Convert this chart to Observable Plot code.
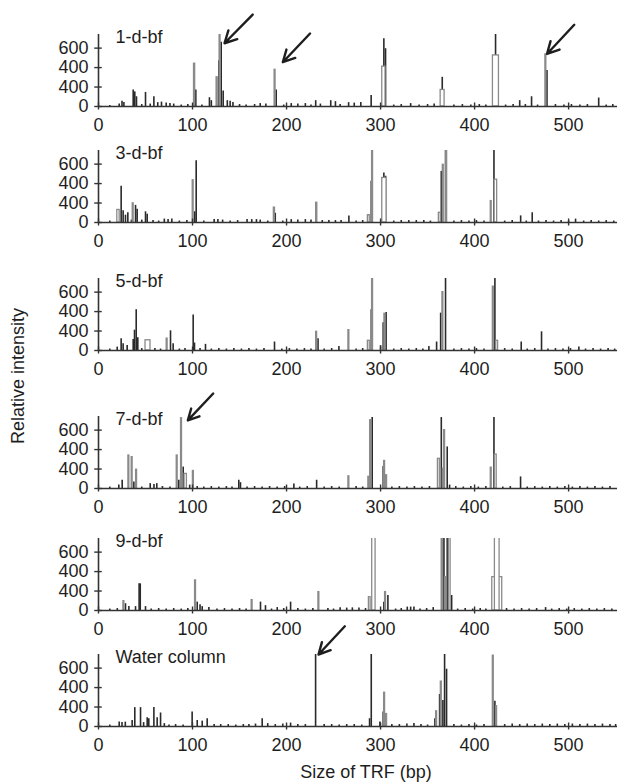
<!DOCTYPE html>
<html><head><meta charset="utf-8">
<script src="https://cdn.jsdelivr.net/npm/d3@7"></script>
<script src="https://cdn.jsdelivr.net/npm/@observablehq/plot@0.6"></script>
<style>
body{margin:0;background:#fff;}
#wrap{position:relative;width:620px;height:784px;font-family:"Liberation Sans",Arial,Helvetica,sans-serif;color:#1e1e1e;overflow:hidden;background:#fff}
.panel{position:absolute;left:0}
#ytitle{position:absolute;left:18px;top:376px;transform:translate(-50%,-50%) rotate(-90deg);font-size:18px;white-space:nowrap}
#xtitle{position:absolute;left:366px;top:772px;transform:translate(-50%,-50%);font-size:18px;white-space:nowrap}
</style></head>
<body><div id="wrap"><div id="ytitle">Relative intensity</div><div id="xtitle">Size of TRF (bp)</div></div>
<script>
const panelLabels = ["1-d-bf","3-d-bf","5-d-bf","7-d-bf","9-d-bf","Water column"];
const xTicks = [0,100,200,300,400,500];
const yTicks = [0,200,400,600];
const yTickLabels = ["0","400","400","600"];

// dark peaks: [size bp, relative intensity]
const dark1 = [[12,10],[22,25],[25,55],[27,40],[36.9,170],[38.6,150],[40.4,100],[46,20],[50,145],[55,25],[58.9,100],[63,40],[67,45],[72,35],[76,30],[80,25],[88,15],[95,20],[103.5,170],[110,15],[118,90],[120,60],[128,470],[130.5,660],[132.6,160],[137,60],[140,55],[143,40],[150,20],[157,15],[166,20],[172,30],[178,25],[189,170],[197,15],[205,30],[212,25],[220,30],[226,15],[231,60],[236,25],[247,60],[252,50],[257,20],[266,40],[272,35],[279,40],[290,113],[303.5,697],[305.3,594],[314,15],[322,20],[332,30],[341,15],[350,20],[357,25],[365.6,300],[378,15],[387,20],[396,15],[405,20],[412,15],[422.3,748],[433,15],[441,20],[448,60],[454,20],[460.6,100],[467,15],[477,370],[486,20],[495,15],[503,20],[512,15],[520,20],[532,87],[540,15],[547,20]];
const dark2 = [[12,15],[24.1,373],[26.2,120],[28.7,75],[31.2,100],[35,25],[39.4,176],[41.1,135],[46,25],[50,110],[51.8,85],[58,20],[64,15],[70,35],[74,30],[78,35],[86,15],[94,20],[103.9,634],[102.3,110],[112,15],[123,30],[127,30],[132,25],[140,15],[148,20],[158,30],[163,30],[168,30],[172,25],[180,15],[188,95],[196,15],[205,30],[212,25],[220,30],[226,25],[238,20],[245,20],[252,20],[258,20],[266.3,68],[274,15],[281,20],[290.1,424],[303.5,508],[305.3,475],[314,15],[322,20],[330,20],[338,20],[346,20],[353,15],[364.6,525],[369.1,740],[378,15],[386,20],[394,15],[402,20],[410,15],[420.6,740],[432,15],[440,20],[449,68],[455,15],[461.3,100],[468,15],[476,20],[484,15],[492,20],[500,15],[507.4,35],[516,15],[524,20],[532,15],[540,20],[548,15]];
const dark3 = [[12,15],[19.9,35],[24.1,122],[26.2,70],[30.5,52],[36.9,112],[38.3,209],[40.1,419],[41.8,130],[46,20],[60,20],[66,15],[76.6,202],[79.4,70],[86,15],[92,20],[100.7,366],[102.1,77],[108,20],[113.8,63],[120,15],[128,20],[136,15],[144,20],[152,15],[160,20],[168,15],[176,20],[187.2,87],[195,15],[203,20],[211,15],[219,20],[226,15],[233.5,122],[240,15],[248,20],[255.7,40],[274,15],[281,20],[290.1,419],[300,50],[302.8,286],[305.9,390],[314,15],[322,20],[330,15],[338,20],[345,15],[351.4,40],[359.6,87],[363.9,384],[369.1,740],[378,15],[386,20],[394,15],[402,20],[410,15],[421.6,740],[432,20],[440,15],[449.6,87],[456,15],[464,20],[471.2,192],[478,15],[486,20],[494,15],[502,20],[510.9,35],[518,15],[526,20],[534,15],[542,20],[549,15]];
const dark4 = [[12,15],[21.6,35],[25.2,85],[37.6,68],[46,15],[55,50],[59,40],[62,50],[68,20],[76,15],[85.4,85],[90.1,220],[97,35],[105,20],[112,15],[120,20],[128,15],[136,20],[142,15],[149.2,85],[151,60],[158,15],[166,20],[174,15],[182,20],[190,15],[198,20],[207.8,45],[214,15],[222,20],[232,85],[240,15],[248,20],[256,15],[274,20],[281,15],[291.1,729],[302.8,227],[312,15],[320,20],[328,15],[336,20],[344,15],[352,20],[364.6,729],[370.9,427],[373.4,35],[380,20],[388,15],[396,20],[404,15],[412,20],[420.6,729],[430,15],[438,20],[448.9,119],[456,15],[464,20],[472,15],[480,20],[488,15],[496,20],[504,15],[512,20],[520,15],[528,20],[536,15],[544,20]];
const dark5 = [[12,15],[20,20],[28.7,70],[32.3,40],[39.4,40],[43.2,274],[44.4,274],[50,40],[56,15],[64,20],[72,15],[80,20],[88,15],[95,20],[105,86],[108,60],[110.3,40],[117.4,30],[126,15],[134,20],[142,15],[150,20],[157,15],[172.3,86],[177.6,50],[184,15],[190.1,30],[197,20],[204.3,86],[212,20],[220,15],[228,20],[244,20],[250,15],[257,27],[264,25],[270,27],[277,25],[284,20],[303.5,86],[307.8,154],[316,15],[322,20],[328.4,35],[332,35],[335.5,35],[342,15],[349,20],[356,30],[367.4,800],[370.9,800],[375.6,154],[382,15],[390,20],[398,15],[406,20],[412,15],[434,20],[442,15],[450,20],[458,15],[466,20],[475.5,30],[482,15],[490,20],[498,15],[506,20],[514,15],[522,20],[530,15],[538,20],[546,15]];
const dark6 = [[12,15],[22,45],[25,40],[28.5,45],[35.8,62],[38.6,194],[44.7,194],[48,40],[51.8,90],[53.5,80],[58.9,194],[62.4,90],[66,139],[70,30],[75,15],[82,20],[90,15],[99.6,149],[105,62],[110.3,55],[115.6,80],[123,20],[130,20],[138,20],[146,15],[154,20],[160,20],[167,25],[174.1,80],[180,30],[188,20],[196,25],[204.3,35],[212,20],[220,20],[230.9,740],[240,20],[248,20],[256,15],[264,20],[272,20],[280,15],[288.3,80],[290.1,740],[299.3,45],[302.8,149],[312,20],[320,20],[328,25],[335.5,30],[343,20],[350,15],[357.8,80],[362.8,329],[366.3,267],[368.1,740],[370.2,589],[378,20],[386,15],[394,20],[402,15],[410,20],[421.6,260],[432,20],[440,25],[448,20],[456,25],[464,20],[472,25],[480,20],[488,25],[496,20],[504,25],[512,20],[520,25],[528,20],[536,25],[544,20],[550,20]];

// light (grey outline) peaks: [from bp, to bp, relative intensity]
const light1 = [[101.6,102.8,440],[125.6,126.8,300],[128.8,129.8,740],[187.3,188.3,377],[301.8,305.3,410],[363.9,368.1,170],[419.5,425.9,525],[475.3,476.3,535]];
const light2 = [[20,22.5,129],[36.4,37.4,197],[100.2,101.2,434],[186.5,187.7,153],[231.5,232.7,203],[286.5,288.5,75],[291,292,740],[301.8,306.4,458],[362,364,100],[366.2,367.2,593],[369.8,370.8,740],[417.2,418.2,220],[421.3,424,440]];
const light3 = [[50,55.3,105],[72.5,73.5,122],[231.5,232.5,192],[265.8,266.8,209],[286.5,288.5,100],[291,292,740],[304.1,305.1,377],[365.8,366.8,600],[419.4,420.4,656],[423,425,100]];
const light4 = [[31.8,32.8,339],[35.3,36.3,322],[40,41,193],[83.2,84.2,339],[87.8,88.8,722],[91.5,94,150],[100.4,101.4,180],[265.8,266.8,125],[287,288.3,120],[288.9,289.9,702],[303.8,304.8,283],[305.9,306.9,136],[361,363,305],[366.2,367.2,203],[367.6,368.6,600],[417.2,418.2,214],[421.5,423.5,349]];
const light5 = [[26.5,27.5,96],[102.7,103.7,309],[162.9,163.9,107],[233.9,234.9,189],[287.6,289.4,137],[291.1,294.7,800],[304.8,305.8,189],[365,366.2,800],[368.6,369.6,343],[372.7,374.5,800],[418.8,429.4,343],[421.6,426.6,800]];
const light6 = [[303.8,304.8,347],[305.9,306.9,128],[359.1,360.1,156],[364.1,365.1,461],[419.4,420.4,728],[422.9,423.9,208]];

// arrows: [panel index, from bp, from intensity, to bp, to intensity]
const arrowData = [[0,164,945,134,650],[0,225,750,196,455],[0,506,840,477,540],[3,122,976,95,700],[5,262,1030,234,740]];

const darkSets = [dark1,dark2,dark3,dark4,dark5,dark6];
const lightSets = [light1,light2,light3,light4,light5,light6];

// layout
const panelZeroY = [106,222,350,488,610,726];
const H = 138, MT = 36, MB = 30;
const yMax = 740, xMax = 552;

const wrap = document.getElementById("wrap");
panelLabels.forEach((label, i) => {
  const dark = darkSets[i].map(([x, y]) => ({x, y}));
  const light = lightSets[i].map(([x1, x2, y]) => ({x1, x2, y}));
  const arrows = arrowData.filter(a => a[0] === i).map(([, x1, y1, x2, y2]) => ({x1, y1, x2, y2}));
  const svg = Plot.plot({
    width: 620, height: H, marginLeft: 98, marginRight: 3, marginTop: MT, marginBottom: MB,
    style: {background: "transparent", overflow: "visible", fontFamily: '"Liberation Sans", Arial, sans-serif', fontSize: "18px", color: "#1e1e1e"},
    x: {domain: [0, xMax], ticks: xTicks, tickSize: 0, tickPadding: 12, label: null},
    y: {domain: [0, yMax], ticks: yTicks, tickSize: 0, tickPadding: 10, label: null,
        tickFormat: d => yTickLabels[yTicks.indexOf(d)]},
    marks: [
      Plot.ruleX(dark, {x: "x", y1: 0, y2: "y", stroke: "#2a2a2a", strokeWidth: 1.6, clip: true}),
      Plot.rect(light, {x1: "x1", x2: "x2", y1: 0, y2: "y", fill: "white", stroke: "#8a8a8a", strokeWidth: 1.3, clip: true}),
      Plot.ruleY([0], {stroke: "#333", strokeWidth: 1.6}),
      Plot.ruleX([0], {y1: 0, y2: yMax, stroke: "#333", strokeWidth: 1.6}),
      Plot.ruleY(yTicks, {y: d => d, x1: -4, x2: 4, stroke: "#333", strokeWidth: 1.4}),
      Plot.ruleX(xTicks, {x: d => d, y1: -36, y2: 36, stroke: "#333", strokeWidth: 1.4}),
      Plot.text([label], {frameAnchor: "top-left", dx: 17, dy: 3, textAnchor: "start", lineAnchor: "middle", fontSize: 18, fill: "#1e1e1e"}),
      Plot.arrow(arrows, {x1: "x1", y1: "y1", x2: "x2", y2: "y2", stroke: "#1e1e1e", strokeWidth: 2.4, headLength: 11, headAngle: 55})
    ]
  });
  svg.classList.add("panel");
  svg.style.top = (panelZeroY[i] - (H - MB)) + "px";
  wrap.appendChild(svg);
});
</script>
</body></html>
